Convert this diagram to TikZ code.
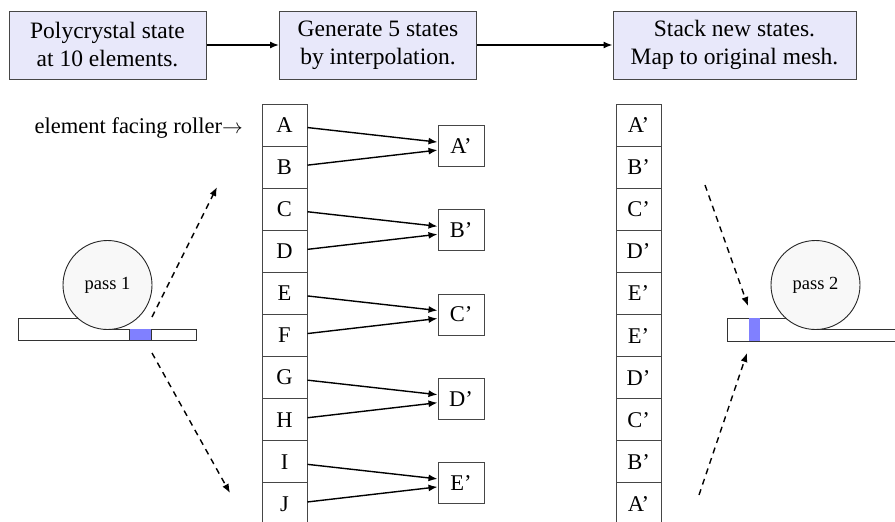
\documentclass[tikz,border=0pt]{standalone}
\usepackage{fontspec}
\setmainfont{Liberation Serif}
\usetikzlibrary{arrows.meta,calc}

\definecolor{boxfill}{RGB}{232,232,250}
\definecolor{edgegray}{RGB}{70,70,70}
\definecolor{marker}{RGB}{128,128,255}
\definecolor{rollfill}{RGB}{248,248,248}

\tikzset{
  stagebox/.style={draw=edgegray, line width=1pt, fill=boxfill, minimum width=197pt,
    minimum height=68pt, align=center, inner sep=0pt, font=\fontsize{23.5}{28}\selectfont},
  cell/.style={draw=edgegray, line width=1pt, minimum width=45pt, minimum height=42.1pt,
    inner sep=0pt, font=\fontsize{22.5}{26}\selectfont},
  newstate/.style={draw=edgegray, line width=1pt, minimum width=46pt, minimum height=41pt,
    inner sep=0pt, font=\fontsize{22.5}{26}\selectfont},
  flow/.style={line width=1.4pt, -{Latex[length=9pt,width=7pt]}},
  track/.style={line width=1.4pt, dash pattern=on 6pt off 5pt, -{Latex[length=9pt,width=7pt]}},
  roller/.style={draw=black!85, line width=0.9pt, fill=rollfill, circle, minimum size=89pt,
    inner sep=0pt, font=\fontsize{18.5}{20}\selectfont},
  slab/.style={draw=black!80, line width=0.9pt, fill=white},
  tag/.style={fill=marker, draw=none}
}

\begin{document}
\begin{tikzpicture}[x=1pt,y=-1pt]
\clip (0,0) rectangle (895,522);
\fill[white] (0,0) rectangle (895,522);

% process stages
\node[stagebox] (s1) at (107.5,45) {Polycrystal state\\at 10 elements.};
\node[stagebox] (s2) at (378,45) {Generate 5 states\\by interpolation.};
\node[stagebox, minimum width=243pt] (s3) at (734.5,45) {Stack new states.\\Map to original mesh.};
\draw[flow] (s1.east) -- (s2.west);
\draw[flow] (s2.east) -- (s3.west);

% original elements and restacked states
\foreach \l [count=\k] in {A,B,C,D,E,F,G,H,I,J} {
  \node[cell] (L\k) at (284.5,{104+42.1*(\k-0.5)}) {\l};
}
\foreach \l [count=\k] in {A,B,C,D,E,E,D,C,B,A} {
  \node[cell] (R\k) at (638.5,{104+42.1*(\k-0.5)}) {\l’};
}

\node[anchor=base east, inner sep=0pt, font=\fontsize{22.5}{26}\selectfont] (face) at (243,133)
  {element facing roller$\rightarrow$};

% interpolated states
\foreach \l [count=\k] in {A,B,C,D,E} {
  \node[newstate] (N\k) at (461,{104+42.1*(2*\k-1)}) {\l’};
}
\foreach \k [evaluate=\k as \u using int(2*\k-1), evaluate=\k as \v using int(2*\k)] in {1,...,5} {
  \draw[flow] ($(L\u.east)+(0,2.5)$) -- ($(N\k.west)+(0,-4)$);
  \draw[flow] ($(L\v.east)+(0,-2)$) -- ($(N\k.west)+(0,4)$);
}

% first pass
\draw[slab] (18,340) -- (18,318) -- (107.5,318) -- (107.5,329) -- (196,329) -- (196,340) -- cycle;
\fill[tag] (129,329.4) rectangle (151,339.6);
\draw[draw=black!80, line width=0.9pt] (129,329) -- (129,340) (151,329) -- (151,340);
\node[roller] (r1) at (107.5,285) {pass 1};
\coordinate (p1a) at (152,317);
\coordinate (p1b) at (152,353);
\coordinate (p1c) at (217,187);
\coordinate (p1d) at (230,493);
\draw[track] (p1a) -- (p1c);
\draw[track] (p1b) -- (p1d);

% second pass
\draw[slab] (727,341) -- (727,318) -- (815.5,318) -- (815.5,329) -- (900,329) -- (900,341) -- cycle;
\fill[tag] (749,318.4) rectangle (760,340.6);
\node[roller] (r2) at (815.5,285) {pass 2};
\coordinate (p2a) at (705,185);
\coordinate (p2b) at (699,495);
\coordinate (p2c) at (748,306);
\coordinate (p2d) at (747,353);
\draw[track] (p2a) -- (p2c);
\draw[track] (p2b) -- (p2d);
\end{tikzpicture}
\end{document}
